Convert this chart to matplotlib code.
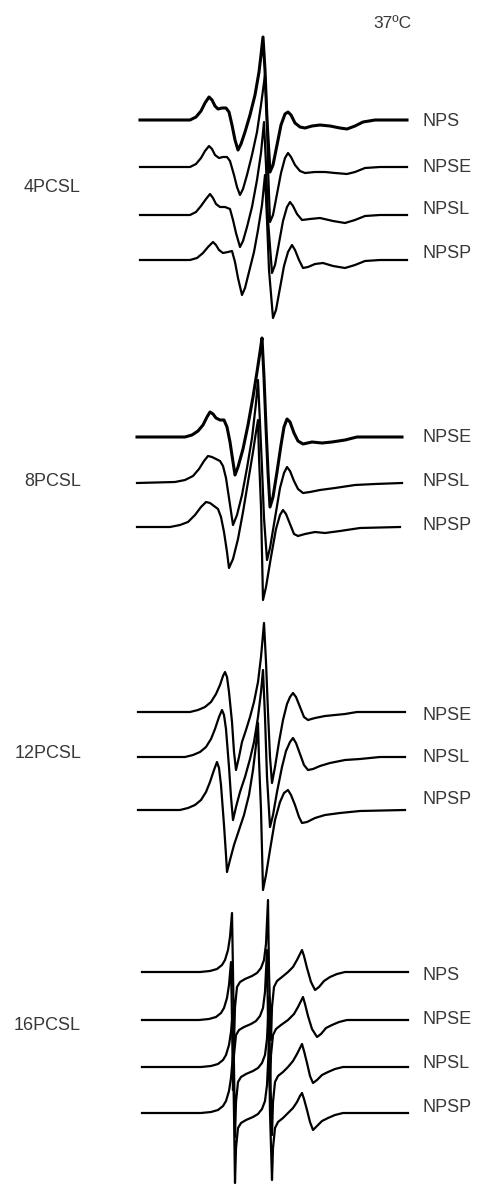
import matplotlib
matplotlib.use("Agg")
import matplotlib.pyplot as plt

# EPR spectra, 37ºC. x = field position, y = signal relative to baseline

# --- 4PCSL ---
p4_nps_x = [140, 190, 196, 201, 205, 209, 212, 215, 218, 222, 226, 229, 232, 235, 238, 241, 245, 250, 255, 259, 261, 263, 265, 267, 270, 273, 277, 281, 285, 288, 291, 295, 300, 305, 312, 320, 330, 340, 347, 355, 363, 375, 407]
p4_nps_y = [0, 0, 3, 9, 17, 23, 20, 14, 11, 12, 12, 8, -5, -20, -30, -24, -12, 5, 25, 48, 65, 83, 50, 0, -52, -45, -25, -5, 6, 8, 5, -3, -7, -8, -6, -5, -6, -8, -9, -6, -2, 0, 0]
p4_npse_x = [140, 190, 196, 201, 205, 209, 212, 215, 219, 223, 227, 230, 234, 237, 240, 243, 247, 252, 257, 261, 265, 267, 268, 270, 273, 277, 281, 285, 288, 291, 295, 300, 305, 315, 325, 335, 347, 355, 365, 380, 407]
p4_npse_y = [0, 0, 3, 9, 16, 21, 18, 12, 9, 10, 10, 6, -8, -20, -28, -22, -8, 12, 35, 62, 92, 50, 0, -55, -48, -27, -6, 9, 14, 10, 2, -4, -6, -5, -5, -6, -7, -5, -1, 0, 0]
p4_npsl_x = [140, 190, 196, 201, 206, 210, 213, 216, 220, 225, 230, 233, 236, 240, 243, 247, 252, 257, 261, 264, 266, 268, 272, 275, 279, 283, 287, 290, 293, 297, 302, 310, 320, 333, 345, 355, 365, 380, 407]
p4_npsl_y = [0, 0, 3, 9, 16, 21, 17, 11, 8, 8, 6, -5, -18, -32, -26, -12, 8, 35, 62, 93, 50, -5, -58, -50, -28, -6, 8, 13, 9, 1, -5, -4, -3, -6, -8, -5, -1, 0, 0]
p4_npsp_x = [140, 190, 197, 203, 208, 213, 216, 219, 223, 228, 232, 235, 238, 242, 245, 249, 254, 258, 262, 265, 267, 269, 273, 276, 280, 284, 288, 292, 295, 299, 303, 308, 315, 323, 333, 345, 355, 365, 380, 407]
p4_npsp_y = [0, 0, 2, 7, 13, 18, 15, 10, 7, 8, 9, -2, -18, -35, -28, -12, 8, 30, 55, 85, 40, -10, -58, -50, -28, -6, 8, 15, 10, 0, -8, -7, -4, -3, -6, -8, -5, -1, 0, 0]

# --- 8PCSL ---
p8_npse_x = [137, 185, 192, 198, 203, 207, 210, 213, 216, 220, 224, 227, 230, 233, 235, 238, 243, 248, 253, 257, 260, 262, 264, 266, 268, 270, 273, 277, 281, 284, 287, 290, 294, 298, 303, 312, 322, 332, 345, 357, 402]
p8_npse_y = [0, 0, 2, 6, 12, 20, 25, 23, 19, 17, 17, 10, -5, -25, -38, -30, -12, 12, 40, 65, 85, 99, 60, 10, -35, -70, -60, -35, -8, 10, 18, 15, 4, -4, -7, -5, -6, -5, -3, 0, 0]
p8_npsl_x = [137, 175, 185, 193, 199, 204, 208, 212, 216, 220, 223, 226, 229, 233, 237, 242, 247, 252, 256, 258, 260, 262, 264, 267, 270, 275, 280, 284, 287, 290, 294, 298, 303, 310, 320, 335, 355, 375, 402]
p8_npsl_y = [0, 1, 3, 7, 14, 22, 27, 26, 24, 22, 17, 5, -15, -42, -32, -12, 15, 45, 80, 103, 60, 15, -35, -77, -65, -35, -5, 10, 16, 12, 2, -6, -10, -9, -7, -5, -2, -1, 0]
p8_npsp_x = [137, 170, 180, 188, 195, 201, 206, 210, 214, 218, 221, 224, 227, 229, 233, 238, 243, 248, 253, 256, 258, 259, 261, 263, 266, 271, 276, 280, 283, 286, 290, 294, 298, 305, 315, 325, 340, 360, 400]
p8_npsp_y = [0, 0, 2, 5, 12, 20, 25, 24, 21, 18, 10, -5, -25, -41, -32, -12, 15, 45, 75, 95, 107, 70, 20, -73, -60, -30, -2, 12, 17, 13, 3, -7, -9, -7, -5, -6, -4, -1, 0]

# --- 12PCSL ---
p12_npse_x = [138, 190, 198, 205, 211, 216, 220, 223, 225, 227, 229, 232, 234, 236, 239, 242, 246, 250, 254, 258, 261, 264, 266, 268, 270, 272, 275, 279, 283, 287, 290, 293, 296, 300, 304, 308, 315, 325, 335, 345, 357, 405]
p12_npse_y = [0, 0, 2, 5, 10, 18, 27, 36, 40, 35, 20, -10, -40, -58, -45, -30, -18, -5, 10, 30, 55, 89, 50, 0, -45, -71, -55, -30, -8, 8, 15, 19, 15, 5, -5, -8, -6, -4, -3, -2, 0, 0]
p12_npsl_x = [138, 185, 193, 200, 206, 211, 215, 219, 222, 224, 226, 229, 231, 233, 236, 240, 245, 250, 254, 258, 261, 263, 265, 267, 270, 273, 277, 282, 286, 290, 293, 296, 300, 304, 308, 313, 320, 330, 345, 360, 380, 405]
p12_npsl_y = [0, 0, 2, 5, 10, 18, 28, 40, 47, 42, 28, -10, -40, -63, -50, -35, -20, -2, 15, 40, 65, 87, 40, -20, -70, -58, -35, -10, 6, 15, 19, 14, 3, -8, -13, -12, -9, -6, -3, -2, 0, 0]
p12_npsp_x = [138, 180, 188, 195, 201, 206, 210, 214, 217, 219, 221, 224, 226, 227, 230, 234, 239, 244, 249, 253, 256, 258, 259, 261, 263, 266, 270, 275, 280, 284, 288, 291, 295, 299, 302, 307, 315, 325, 340, 360, 405]
p12_npsp_y = [0, 0, 2, 5, 10, 18, 28, 40, 48, 42, 25, -15, -45, -62, -50, -35, -20, -5, 15, 40, 65, 87, 50, 0, -80, -65, -40, -10, 8, 17, 20, 15, 5, -7, -13, -12, -8, -5, -3, -1, 0]

# --- 16PCSL ---
p16_nps_x = [142, 200, 210, 217, 222, 225, 228, 230, 232, 233, 234, 235, 237, 240, 245, 252, 257, 261, 264, 266, 268, 269, 271, 272, 274, 277, 282, 288, 293, 297, 300, 302, 304, 307, 311, 315, 319, 324, 330, 337, 345, 408]
p16_nps_y = [0, 0, 1, 3, 7, 12, 22, 35, 59, 0, -70, -35, -15, -10, -7, -4, -1, 4, 12, 28, 72, 0, -68, -35, -15, -9, -5, 0, 5, 12, 18, 22, 16, 4, -10, -18, -15, -9, -5, -2, 0, 0]
p16_npse_x = [142, 199, 209, 216, 221, 224, 227, 229, 231, 232, 233, 234, 236, 239, 244, 251, 256, 260, 263, 265, 267, 268, 270, 271, 273, 276, 281, 288, 294, 298, 301, 303, 305, 308, 312, 317, 321, 326, 332, 339, 347, 408]
p16_npse_y = [0, 0, 1, 3, 7, 12, 22, 35, 58, 0, -70, -35, -15, -10, -7, -4, -1, 4, 12, 28, 70, 0, -68, -35, -15, -9, -5, 0, 6, 13, 19, 23, 16, 4, -9, -17, -14, -8, -5, -2, 0, 0]
p16_npsl_x = [142, 201, 211, 218, 223, 226, 229, 231, 233, 234, 235, 236, 238, 241, 246, 253, 258, 262, 265, 267, 269, 270, 272, 273, 275, 278, 283, 288, 293, 297, 300, 302, 304, 307, 310, 313, 317, 322, 328, 335, 343, 408]
p16_npsl_y = [0, 0, 1, 3, 7, 12, 22, 35, 58, 0, -70, -35, -15, -10, -7, -4, -1, 4, 12, 28, 70, 0, -68, -35, -15, -9, -5, 0, 6, 13, 19, 23, 16, 4, -9, -16, -13, -8, -5, -2, 0, 0]
p16_npsp_x = [142, 201, 211, 218, 223, 226, 229, 231, 233, 234, 235, 236, 238, 241, 246, 253, 258, 262, 265, 267, 269, 270, 272, 273, 275, 278, 283, 288, 293, 297, 300, 302, 304, 307, 310, 313, 317, 322, 328, 335, 343, 408]
p16_npsp_y = [0, 0, 1, 3, 7, 12, 22, 35, 58, 0, -70, -35, -15, -10, -7, -4, -1, 4, 12, 28, 70, 0, -67, -35, -15, -9, -5, 0, 5, 11, 17, 20, 14, 3, -9, -17, -13, -8, -5, -2, 0, 0]

panel_names = ['4PCSL', '8PCSL', '12PCSL', '16PCSL']
panel_traces = [
    [('NPS', p4_nps_x, p4_nps_y), ('NPSE', p4_npse_x, p4_npse_y),
     ('NPSL', p4_npsl_x, p4_npsl_y), ('NPSP', p4_npsp_x, p4_npsp_y)],
    [('NPSE', p8_npse_x, p8_npse_y), ('NPSL', p8_npsl_x, p8_npsl_y),
     ('NPSP', p8_npsp_x, p8_npsp_y)],
    [('NPSE', p12_npse_x, p12_npse_y), ('NPSL', p12_npsl_x, p12_npsl_y),
     ('NPSP', p12_npsp_x, p12_npsp_y)],
    [('NPS', p16_nps_x, p16_nps_y), ('NPSE', p16_npse_x, p16_npse_y),
     ('NPSL', p16_npsl_x, p16_npsl_y), ('NPSP', p16_npsp_x, p16_npsp_y)],
]

# layout: baselines (from top), label heights, panel label heights
baselines = [[120, 167, 215, 260], [437, 483, 527], [712, 757, 810], [972, 1020, 1067, 1113]]
label_pos = [[122, 167, 209, 253], [438, 482, 525], [715, 757, 800], [976, 1020, 1063, 1108]]
panel_label_pos = [188, 481, 753, 1026]
noisy = {(0, 'NPS'), (1, 'NPSE')}

fig = plt.figure(figsize=(4.8, 11.84), dpi=100)
ax = fig.add_axes([0, 0, 1, 1])
ax.set_xlim(0, 480)
ax.set_ylim(-1184, 0)
ax.axis('off')

font = ['Liberation Sans', 'DejaVu Sans']
txt_color = '#383838'

for i, traces in enumerate(panel_traces):
    for j, (name, xs, ys) in enumerate(traces):
        base = baselines[i][j]
        lw = 2.2 if (i, name) in noisy else 1.6
        ax.plot(xs, [-base + v for v in ys], color='black', lw=lw)
        ax.text(422, -label_pos[i][j], name, fontsize=13, color=txt_color,
                family=font, va='center', ha='left')
    ax.text(81, -panel_label_pos[i], panel_names[i], fontsize=13,
            color=txt_color, family=font, va='center', ha='right')

ax.text(373, -24, '37ºC', fontsize=12.5, color=txt_color, family=font,
        va='center', ha='left')

fig.savefig('out.png', dpi=100)
